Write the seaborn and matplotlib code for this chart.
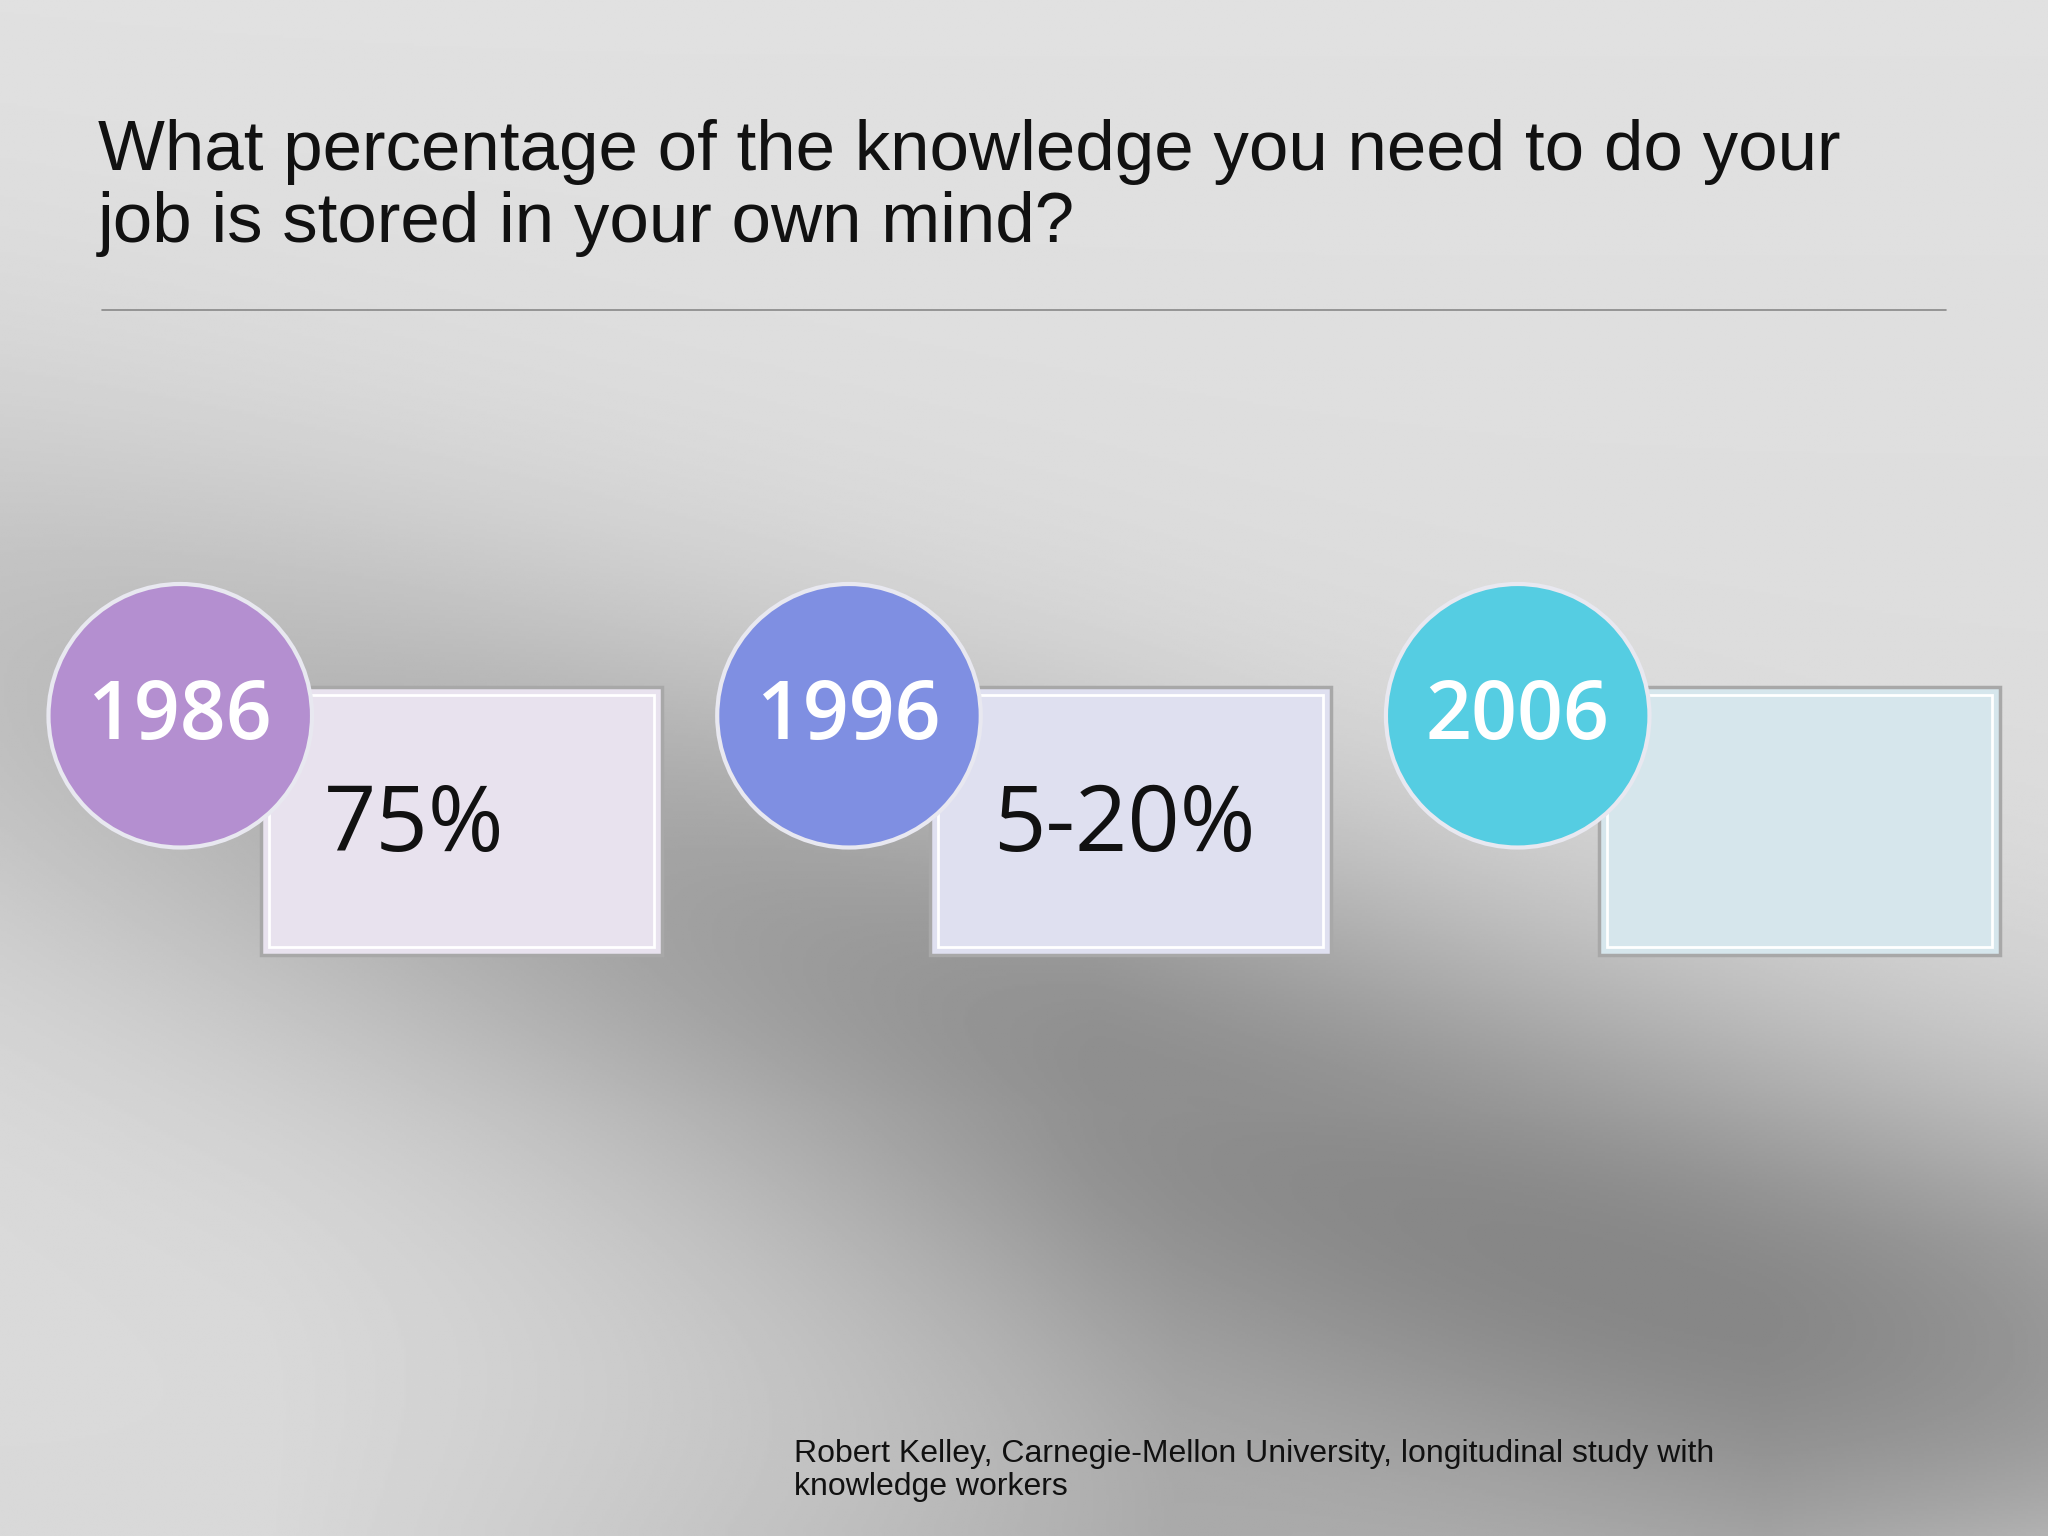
import numpy as np
import seaborn as sns
import pandas as pd
from matplotlib import pyplot as plt
from matplotlib.patches import Rectangle

# data
years = ['1986', '1996', '2006']
values = ['75%', '5-20%', '']
circle_colors = ['#b48fd0', '#7f8fe2', '#55cde2']
box_colors = ['#e8e2ee', '#dfe0f0', '#d6e6ec']
title = 'What percentage of the knowledge you need to do your\njob is stored in your own mind?'
source = 'Robert Kelley, Carnegie-Mellon University, longitudinal study with\nknowledge workers'

sns.set_theme(style='white')
plt.rcParams['font.family'] = ['Liberation Sans', 'DejaVu Sans']

W, H = 1568, 1176
fig = plt.figure(figsize=(20.48, 15.36), dpi=100)
ax = fig.add_axes([0, 0, 1, 1])
ax.set_xlim(0, W)
ax.set_ylim(H, 0)
ax.axis('off')

# brushed metal background
yy, xx = np.mgrid[0:H:2, 0:W:2]
base = 0.88 - 0.03 * (yy / H)
base -= 0.30 * np.exp(-((yy - 0.35 * xx - 520) / 230.0) ** 2) * np.clip(0.4 + xx / 1400, 0, 1)
base -= 0.15 * np.clip((yy - 850) / 320, 0, 1) * np.clip(1 - np.abs(xx - 900) / 700, 0, 1)
base += 0.10 * np.clip((xx - 1350) / 220, 0, 1) * np.clip((yy - 950) / 230, 0, 1)
base = np.clip(base, 0, 1)
ax.imshow(base, cmap='gray', vmin=0, vmax=1, extent=(0, W, H, 0), aspect='auto', zorder=0)

ax.text(75, 197, title, fontsize=51, color='#111111', va='bottom', ha='left', linespacing=1.12)
ax.plot([78, 1490], [237, 237], color='#888888', lw=1.2)

df = pd.DataFrame({'year': years, 'value': values})
df['x'] = 138 + 512 * np.arange(len(df))
df['y'] = 548

for i, r in df.iterrows():
    ax.add_patch(Rectangle((r.x + 62, 526), 307, 205, facecolor=box_colors[i],
                           edgecolor='#a8a8a8', lw=2.5, zorder=2))
    ax.add_patch(Rectangle((r.x + 68, 532), 295, 193, facecolor='none',
                           edgecolor='white', lw=2, zorder=2))
    ax.text(r.x + 110, 633, r.value, fontsize=66, color='#111111',
            ha='left', va='center', family=['Open Sans', 'DejaVu Sans'], zorder=4)

sns.scatterplot(data=df, x='x', y='y', hue='year', palette=circle_colors, s=36000,
                edgecolor='#e8e8f0', linewidth=3, legend=False, ax=ax, zorder=3)
for i, r in df.iterrows():
    ax.text(r.x, r.y + 2, r.year, fontsize=58, color='white', ha='center', va='center',
            weight='semibold', family=['Open Sans', 'DejaVu Sans'], zorder=5)

ax.set_xlim(0, W)
ax.set_ylim(H, 0)
ax.text(608, 1102, source, fontsize=23, color='#111111', va='top', ha='left', linespacing=1.1)

fig.savefig('out.png', dpi=100)
